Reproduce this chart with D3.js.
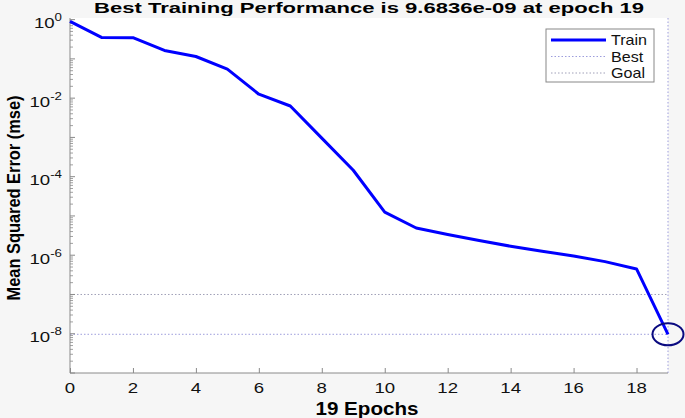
<!DOCTYPE html>
<html><head><meta charset="utf-8">
<script src="https://cdn.jsdelivr.net/npm/d3@7"></script>
<style>body{margin:0;background:#f6f6f6;}svg{display:block;}</style>
</head><body>
<svg id="c" width="685" height="418"></svg>
<script>
const epochs = d3.range(0, 20);
const trainMSE = [0.905, 0.352, 0.347, 0.164, 0.115, 0.0548, 0.0126, 0.00632, 9.6e-4, 1.46e-4,
  1.25e-5, 4.93e-6, 3.37e-6, 2.36e-6, 1.69e-6, 1.26e-6, 9.6e-7, 6.86e-7, 4.47e-7, 9.6836e-9];
const bestEpoch = 19;
const bestValue = 9.6836e-9;
const goalValue = 1e-7;
const xTicks = [0, 2, 4, 6, 8, 10, 12, 14, 16, 18];
const yTickExps = [0, -2, -4, -6, -8];
const legendLabels = ["Train", "Best", "Goal"];
const titleText = "Best Training Performance is 9.6836e-09 at epoch 19";

const svg = d3.select("#c");
const L = 70, R = 668, T = 18, B = 373;
const x = d3.scaleLinear().domain([0, 19]).range([L, R]);
const y = d3.scaleLog().domain([1e-9, 1.1]).range([B, T]);
const axisCol = "#8a8a8a";
const font = "Liberation Sans, Arial, sans-serif";
const SX = 1.33; // horizontal stretch of the reference image text

svg.append("rect").attr("x", L).attr("y", T).attr("width", R - L).attr("height", B - T).attr("fill", "#fff");

// dotted reference lines
const dotCol = "#9d9ddc";
svg.append("line").attr("x1", L).attr("x2", R).attr("y1", y(goalValue)).attr("y2", y(goalValue))
  .attr("stroke", "#a0a0b8").attr("stroke-width", 1).attr("stroke-dasharray", "1.5,2");
svg.append("line").attr("x1", L).attr("x2", R).attr("y1", y(bestValue)).attr("y2", y(bestValue))
  .attr("stroke", dotCol).attr("stroke-width", 1).attr("stroke-dasharray", "1.5,2");
svg.append("line").attr("x1", x(bestEpoch)).attr("x2", x(bestEpoch)).attr("y1", T).attr("y2", B)
  .attr("stroke", dotCol).attr("stroke-width", 1).attr("stroke-dasharray", "1.5,2");

// x axis
const xAxis = d3.axisBottom(x).tickValues(xTicks).tickSize(-5).tickFormat("");
const gx = svg.append("g").attr("transform", `translate(0,${B})`).call(xAxis);
gx.select(".domain").attr("stroke", axisCol).attr("d", `M${L},0H${R}`);
gx.selectAll(".tick line").attr("stroke", axisCol);
svg.selectAll(".xl").data(xTicks).join("text")
  .attr("transform", d => `translate(${x(d)},393) scale(${SX},1)`)
  .attr("text-anchor", "middle").attr("font-family", font).attr("font-size", 14).attr("fill", "#111")
  .text(d => d);

// y axis
const minors = [];
for (let e = -9; e <= 0; e++) for (let m = 2; m <= 9; m++) { const v = m * Math.pow(10, e); if (v <= 1.1) minors.push(v); }
const decades = d3.range(-9, 1).map(e => Math.pow(10, e));
const gy = svg.append("g").attr("transform", `translate(${L},0)`);
gy.append("line").attr("x1", 0).attr("x2", 0).attr("y1", T).attr("y2", B).attr("stroke", axisCol);
gy.selectAll(".mn").data(minors).join("line").attr("x1", 0).attr("x2", 3)
  .attr("y1", d => y(d)).attr("y2", d => y(d)).attr("stroke", axisCol).attr("stroke-width", 0.8);
gy.selectAll(".mj").data(decades).join("line").attr("x1", 0).attr("x2", 5)
  .attr("y1", d => y(d)).attr("y2", d => y(d)).attr("stroke", axisCol);
const yl = svg.selectAll(".yl").data(yTickExps).join("text")
  .attr("transform", d => `translate(62,${y(Math.pow(10, d)) + 8.5}) scale(${SX},1)`)
  .attr("text-anchor", "end")
  .attr("font-family", font).attr("font-size", 14).attr("fill", "#111");
yl.append("tspan").text("10");
yl.append("tspan").attr("dy", -7).attr("font-size", 10).text(d => d);

// train line
const line = d3.line().x((d, i) => x(epochs[i])).y(d => y(d));
svg.append("path").datum(trainMSE).attr("d", line).attr("fill", "none")
  .attr("stroke", "#0000ff").attr("stroke-width", 3).attr("stroke-linejoin", "round");

// best circle
svg.append("ellipse").attr("cx", x(bestEpoch)).attr("cy", y(bestValue)).attr("rx", 15.5).attr("ry", 11)
  .attr("fill", "none").attr("stroke", "#0a0a80").attr("stroke-width", 2);

// legend
const lg = svg.append("g");
lg.append("rect").attr("x", 546).attr("y", 29).attr("width", 108).attr("height", 53)
  .attr("fill", "#fff").attr("stroke", "#888");
const legY = [40, 56.5, 73];
legendLabels.forEach((t, i) => {
  const l = lg.append("line").attr("x1", 551).attr("x2", 606).attr("y1", legY[i]).attr("y2", legY[i]);
  if (i === 0) l.attr("stroke", "#0000ff").attr("stroke-width", 3);
  else l.attr("stroke", i === 1 ? dotCol : "#a0a0b8").attr("stroke-width", 1).attr("stroke-dasharray", "1.5,2");
  lg.append("text").attr("transform", `translate(611,${legY[i] + 5}) scale(1.15,1)`)
    .attr("font-family", font).attr("font-size", 14).attr("fill", "#111").text(t);
});

// titles
svg.append("text").attr("x", 369).attr("y", 13).attr("text-anchor", "middle").attr("font-family", font)
  .attr("font-weight", "bold").attr("font-size", 15.5).attr("fill", "#000")
  .attr("textLength", 550).attr("lengthAdjust", "spacingAndGlyphs").text(titleText);
svg.append("text").attr("x", 367).attr("y", 415).attr("text-anchor", "middle").attr("font-family", font)
  .attr("font-weight", "bold").attr("font-size", 17.5).attr("fill", "#000")
  .attr("textLength", 103).attr("lengthAdjust", "spacingAndGlyphs").text("19 Epochs");
svg.append("text").attr("transform", "translate(20,198) scale(1.2,1) rotate(-90)").attr("text-anchor", "middle")
  .attr("font-family", font).attr("font-weight", "bold").attr("font-size", 15)
  .attr("textLength", 205).attr("lengthAdjust", "spacingAndGlyphs").attr("fill", "#000")
  .text("Mean Squared Error  (mse)");
</script>
</body></html>
